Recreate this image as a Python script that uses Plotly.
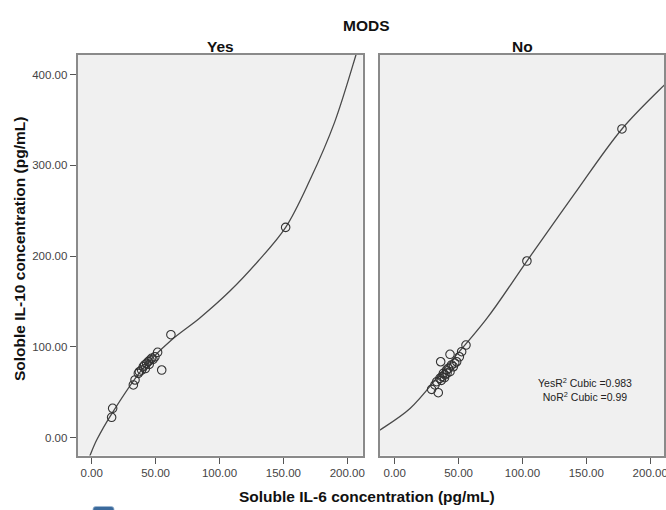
import plotly.graph_objects as go

# ---- data ----
yes_x = [16.4, 15.6, 62.0, 54.8, 51.6, 32.6, 33.9, 36.5, 37.3, 39.1, 40.4, 41.5,
         43.0, 44.3, 45.6, 46.9, 48.0, 49.5, 45.0, 42.0, 151.8]
yes_y = [32.2, 22.3, 113.3, 74.4, 93.9, 57.9, 63.4, 70.7, 72.5, 74.4, 78.0, 80.0,
         81.7, 83.6, 85.4, 87.3, 86.0, 89.0, 80.5, 76.0, 231.6]

no_x = [177.9, 103.5, 55.8, 52.4, 50.6, 48.5, 45.9, 43.3, 36.0, 43.3, 42.0, 40.7,
        39.4, 38.1, 37.0, 35.4, 32.9, 31.5, 28.9, 34.1, 41.0, 44.5, 39.0, 36.5, 47.0]
no_y = [340.0, 194.5, 101.9, 94.6, 89.0, 83.5, 78.0, 91.7, 83.5, 72.5, 76.3, 74.4,
        69.0, 70.7, 67.1, 65.2, 61.5, 57.9, 53.1, 49.4, 71.0, 80.0, 66.0, 63.0, 82.0]

# cubic fit lines
yes_fit_x = [-3.0, -1.3, 3.9, 16.0, 40.0, 62.0, 84.4, 108.2, 130.0, 151.8, 170.8, 190.0, 206.8, 209.0]
yes_fit_y = [-26.0, -19.8, -2.8, 27.0, 76.0, 107.0, 131.5, 161.4, 194.0, 231.6, 283.7, 347.0, 421.5, 432.0]

no_fit_x = [-13.0, -11.5, 12.0, 38.1, 72.0, 103.5, 140.0, 177.9, 210.8, 213.0]
no_fit_y = [6.8, 8.3, 32.0, 74.4, 131.0, 194.5, 267.0, 340.0, 388.0, 391.0]

panels = ["Yes", "No"]
x_ticks = [0, 50, 100, 150, 200]
y_ticks = [0, 100, 200, 300, 400]
r2_labels = ["YesR<sup>2</sup> Cubic =0.983", "NoR<sup>2</sup> Cubic =0.99"]

X_RANGE_L = [-10.95, 212.1]
X_RANGE_R = [-11.5, 210.8]
Y_RANGE = [-19.8, 421.5]

FONT = "Liberation Sans, Arial, sans-serif"
W, H = 666, 510
TITLE_SIZE = 15.5
TICK_SIZE = 11.5

fig = go.Figure()

series = [(yes_x, yes_y, yes_fit_x, yes_fit_y), (no_x, no_y, no_fit_x, no_fit_y)]
for i, (xs, ys, fx, fy) in enumerate(series):
    xa = "x" if i == 0 else "x2"
    ya = "y" if i == 0 else "y2"
    fig.add_trace(go.Scatter(x=fx, y=fy, mode="lines",
                             line=dict(color="#4a4a4a", width=1.3, shape="spline", smoothing=1.0),
                             xaxis=xa, yaxis=ya, hoverinfo="skip", showlegend=False))
    fig.add_trace(go.Scatter(x=xs, y=ys, mode="markers",
                             marker=dict(symbol="circle-open", size=8.5,
                                         color="#333333", line=dict(width=1.1)),
                             xaxis=xa, yaxis=ya, showlegend=False))

dom_left = [77.7 / W, 362.7 / W]
dom_right = [380.0 / W, 664.0 / W]
dom_y = [1 - 455.5 / H, 1 - 55.0 / H]

axis_common = dict(tickvals=x_ticks, tickformat=".2f", automargin=False,
                   ticklabeloverflow="allow",
                   ticks="outside", ticklen=6, tickcolor="#555555", tickwidth=1.2,
                   showgrid=False, zeroline=False, showline=True, mirror=True,
                   linecolor="#8a8a8a", linewidth=2,
                   tickfont=dict(family=FONT, size=TICK_SIZE, color="#444444"))

fig.update_layout(
    width=W, height=H,
    margin=dict(l=0, r=0, t=0, b=0, autoexpand=False),
    paper_bgcolor="white", plot_bgcolor="#f0f0f0",
    xaxis=dict(domain=dom_left, anchor="y", range=X_RANGE_L, **axis_common),
    xaxis2=dict(domain=dom_right, anchor="y2", range=X_RANGE_R, **axis_common),
    yaxis=dict(domain=dom_y, anchor="x", range=Y_RANGE, tickvals=y_ticks, automargin=False,
               ticklabeloverflow="allow",
               tickformat=".2f", ticks="outside", ticklen=6, tickcolor="#555555",
               tickwidth=1.2, showgrid=False, zeroline=False, showline=True,
               mirror=True, linecolor="#8a8a8a", linewidth=2,
               tickfont=dict(family=FONT, size=TICK_SIZE, color="#444444")),
    yaxis2=dict(domain=dom_y, anchor="x2", range=Y_RANGE, showticklabels=False,
                automargin=False, ticks="", showgrid=False, zeroline=False,
                showline=True, mirror=True, linecolor="#8a8a8a", linewidth=2),
    showlegend=False,
)

titles = [
    dict(text="<b>MODS</b>", x=366 / W, y=1 - 25 / H),
    dict(text="<b>" + panels[0] + "</b>", x=220 / W, y=1 - 46 / H),
    dict(text="<b>" + panels[1] + "</b>", x=522 / W, y=1 - 46 / H),
    dict(text="<b>Soluble IL-6 concentration (pg/mL)</b>", x=367 / W, y=1 - 496 / H),
]
for t in titles:
    fig.add_annotation(text=t["text"], x=t["x"], y=t["y"], xref="paper", yref="paper",
                       showarrow=False, xanchor="center", yanchor="middle",
                       font=dict(family=FONT, size=TITLE_SIZE, color="#111111"))

fig.add_annotation(text="<b>Soloble IL-10 concentration (pg/mL)</b>", textangle=-90,
                   x=19 / W, y=1 - 249 / H, xref="paper", yref="paper", showarrow=False,
                   xanchor="center", yanchor="middle",
                   font=dict(family=FONT, size=TITLE_SIZE, color="#111111"))

fig.add_annotation(text=r2_labels[0] + "<br>" + r2_labels[1],
                   x=585 / W, y=1 - 389 / H, xref="paper", yref="paper", showarrow=False,
                   xanchor="center", yanchor="middle", align="center",
                   font=dict(family=FONT, size=10.5, color="#222222"))

# small blue artefact at the bottom-left of the picture
fig.add_shape(type="path", xref="paper", yref="paper",
              path="M %f %f L %f %f Q %f %f %f %f L %f %f Q %f %f %f %f L %f %f Z" % (
                  93 / W, -0.02, 93 / W, 1 - 509 / H, 93 / W, 1 - 506.5 / H, 96 / W, 1 - 506.5 / H,
                  111 / W, 1 - 506.5 / H, 114 / W, 1 - 506.5 / H, 114 / W, 1 - 509 / H,
                  114 / W, -0.02),
              fillcolor="#3b6a9c", line=dict(color="#9db6d2", width=0.8))

fig.write_html("out.html", config={"displayModeBar": False},
               post_script="document.body.style.margin='0';document.body.style.overflow='hidden';")
